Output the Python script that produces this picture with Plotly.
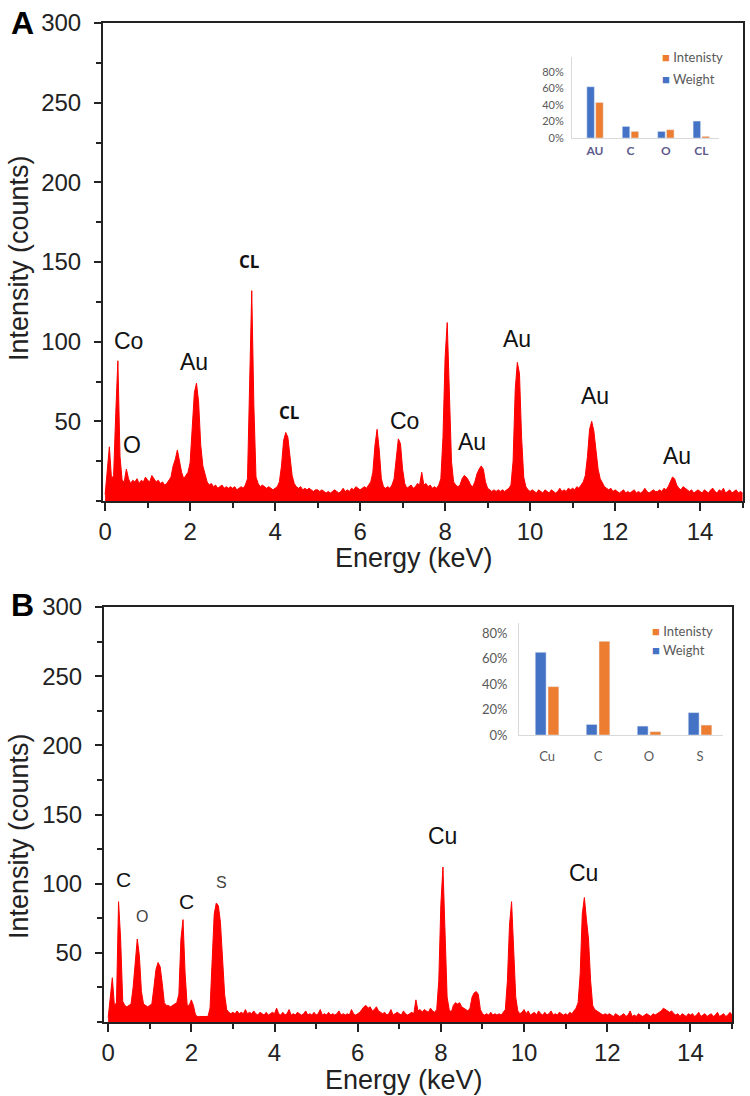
import plotly.graph_objects as go

W, H = 750, 1096

# ---------------- DATA ----------------
# EDS spectra: counts per 0.05 keV channel, 0.00 ... 15.00 keV
channel_kev = 0.05

counts_a = [
    4, 20, 34, 14, 16, 55, 88, 28, 13, 12, 20, 14, 11, 13, 12, 14, 11, 13, 12, 15,      # 0-1
    13, 12, 16, 14, 12, 13, 11, 12, 10, 11, 13, 15, 22, 26, 32, 25, 18, 14, 16, 18,     # 1-2
    24, 45, 68, 74, 62, 35, 22, 17, 12, 10, 11, 9, 10, 8, 9, 10, 8, 9, 8, 9,            # 2-3
    8, 9, 7, 8, 9, 8, 10, 14, 70, 132, 60, 15, 11, 9, 10, 9, 8, 9, 8, 7,                # 3-4
    8, 9, 12, 22, 38, 43, 40, 28, 16, 11, 9, 8, 9, 7, 8, 7, 8, 7, 6, 7,                 # 4-5
    7, 6, 7, 6, 5, 6, 5, 6, 7, 6, 5, 6, 8, 6, 7, 6, 8, 7, 9, 8,                         # 5-6
    7, 8, 9, 8, 10, 12, 18, 35, 45, 32, 14, 9, 8, 9, 8, 10, 14, 28, 39, 36,             # 6-7
    20, 11, 8, 9, 10, 8, 9, 11, 10, 18, 10, 11, 9, 10, 8, 9, 8, 10, 14, 40,             # 7-8
    90, 112, 70, 25, 12, 10, 9, 10, 14, 16, 15, 13, 10, 9, 12, 17, 20, 22, 20, 12,      # 8-9
    8, 7, 6, 7, 6, 7, 6, 7, 6, 7, 8, 10, 25, 70, 87, 80, 40, 15, 9, 7,                  # 9-10
    6, 7, 6, 5, 7, 6, 5, 7, 6, 5, 7, 6, 5, 6, 8, 6, 7, 6, 8, 7,                         # 10-11
    8, 7, 9, 8, 10, 12, 16, 28, 45, 50, 44, 30, 20, 14, 11, 9, 8, 7, 8, 6,              # 11-12
    7, 6, 5, 6, 7, 5, 6, 5, 6, 7, 5, 6, 5, 6, 8, 6, 5, 6, 7, 6,                         # 12-13
    6, 7, 6, 8, 7, 9, 12, 15, 14, 10, 8, 7, 9, 8, 7, 6, 7, 5, 6, 7,                     # 13-14
    6, 5, 7, 6, 5, 7, 8, 6, 5, 7, 6, 8, 5, 6, 7, 5, 6, 7, 5, 6,                         # 14-15
    5,
]

counts_b = [
    3, 20, 32, 12, 14, 87, 60, 15, 12, 11, 12, 13, 25, 40, 60, 48, 22, 13, 12, 11,     # 0-1
    12, 13, 25, 38, 43, 40, 28, 14, 12, 12, 11, 12, 13, 14, 20, 60, 74, 35, 12, 12,     # 1-2
    16, 12, 5, 4, 4, 4, 4, 4, 4, 10, 50, 78, 86, 84, 72, 45, 20, 9, 7, 6,               # 2-3
    7, 6, 8, 6, 7, 6, 9, 6, 7, 6, 8, 6, 5, 7, 6, 5, 7, 5, 6, 7,                         # 3-4
    6, 10, 6, 5, 7, 5, 6, 9, 5, 6, 5, 7, 6, 5, 6, 8, 5, 6, 5, 7,                        # 4-5
    5, 6, 9, 5, 6, 5, 7, 5, 6, 5, 6, 8, 5, 6, 5, 6, 5, 9, 6, 5,                         # 5-6
    6, 7, 9, 11, 12, 10, 11, 8, 9, 11, 8, 7, 6, 7, 5, 6, 9, 5, 6, 7,                    # 6-7
    6, 5, 8, 6, 5, 6, 7, 6, 16, 8, 9, 7, 9, 8, 7, 10, 8, 7, 9, 30,                      # 7-8
    85, 112, 60, 18, 9, 7, 12, 14, 13, 14, 11, 10, 9, 8, 10, 18, 21, 22, 20, 9,         # 8-9
    6, 5, 6, 5, 7, 5, 6, 5, 6, 5, 7, 9, 30, 70, 87, 55, 18, 8, 6, 7,                    # 9-10
    9, 6, 8, 5, 6, 7, 5, 8, 6, 5, 7, 5, 6, 8, 5, 6, 5, 7, 6, 5,                         # 10-11
    6, 5, 7, 6, 8, 10, 14, 35, 78, 90, 74, 60, 30, 12, 9, 8, 7, 6, 5, 6,                # 11-12
    5, 6, 5, 4, 6, 5, 4, 5, 6, 4, 5, 8, 4, 5, 4, 6, 5, 4, 5, 6,                         # 12-13
    5, 4, 6, 5, 6, 7, 8, 10, 9, 8, 7, 8, 6, 5, 6, 4, 6, 5, 4, 6,                        # 13-14
    5, 6, 4, 5, 7, 4, 5, 6, 4, 5, 6, 4, 5, 7, 4, 5, 6, 4, 5, 7,                         # 14-15
    5,
]

energy_a = [round(i * channel_kev, 2) for i in range(len(counts_a))]
energy_b = [round(i * channel_kev, 2) for i in range(len(counts_b))]

# peak labels (text, energy keV, counts)
labels_a_text = ["Co", "O", "Au", "Co", "Au", "Au", "Au", "Au"]
labels_a_x = [0.54, 0.64, 2.09, 7.04, 8.64, 9.69, 11.53, 13.46]
labels_a_y = [100.6, 35, 87, 50, 36.9, 101.9, 65.6, 28]
labels_a_bold_text = ["CL", "CL"]
labels_a_bold_x = [3.39, 4.35]
labels_a_bold_y = [150.6, 55.6]

labels_b_text = ["C", "C", "Cu", "Cu"]
labels_b_x = [0.36, 1.88, 8.05, 11.42]
labels_b_y = [102.7, 86.8, 134.5, 107.7]
labels_b_size = [21, 21, 23, 23]
labels_b_small_text = ["O", "S"]
labels_b_small_x = [0.82, 2.72]
labels_b_small_y = [76.6, 101.2]

# insets: composition (%)
inset_a_cats = ["AU", "C", "O", "CL"]
inset_a_weight = [62, 14, 8, 20.5]
inset_a_intensity = [43, 8, 10, 2]

inset_b_cats = ["Cu", "C", "O", "S"]
inset_b_weight = [65, 8.3, 7, 17.6]
inset_b_intensity = [38, 73.6, 2.6, 7.8]

y_ticks_main = [50, 100, 150, 200, 250, 300]
x_ticks_main = [0, 2, 4, 6, 8, 10, 12, 14]
inset_ticks = [0, 20, 40, 60, 80]
inset_tick_text = ["0%", "20%", "40%", "60%", "80%"]

# ---------------- STYLE ----------------
RED = "#FF0000"
BLUE = "#4472C4"
ORANGE = "#ED7D31"
AXC = "#222222"
FONT = "Liberation Sans, Arial, sans-serif"
IFONT = "Lato, Open Sans, sans-serif"


def fx(px):
    return px / W


def fy(py):
    return 1 - py / H


fig = go.Figure()

fig.add_trace(go.Scatter(x=energy_a, y=counts_a, mode="lines", fill="tozeroy",
                         line=dict(color=RED, width=1), fillcolor=RED,
                         xaxis="x", yaxis="y", showlegend=False))
fig.add_trace(go.Scatter(x=energy_b, y=counts_b, mode="lines", fill="tozeroy",
                         line=dict(color=RED, width=1), fillcolor=RED,
                         xaxis="x2", yaxis="y2", showlegend=False))

fig.add_trace(go.Bar(x=inset_a_cats, y=inset_a_weight, marker_color=BLUE, name="Weight",
                     xaxis="x3", yaxis="y3", showlegend=False))
fig.add_trace(go.Bar(x=inset_a_cats, y=inset_a_intensity, marker_color=ORANGE, name="Intenisty",
                     xaxis="x3", yaxis="y3", showlegend=False))
fig.add_trace(go.Bar(x=inset_b_cats, y=inset_b_weight, marker_color=BLUE, name="Weight",
                     xaxis="x4", yaxis="y4", showlegend=False))
fig.add_trace(go.Bar(x=inset_b_cats, y=inset_b_intensity, marker_color=ORANGE, name="Intenisty",
                     xaxis="x4", yaxis="y4", showlegend=False))


def main_x(domain, rng, anchor):
    return dict(domain=domain, range=rng, anchor=anchor, automargin=False, showline=True,
                linecolor=AXC, linewidth=2, mirror=True, ticks="outside", ticklen=8,
                tickwidth=1.5, tickcolor=AXC, tickvals=x_ticks_main, showgrid=False,
                zeroline=False, tickfont=dict(family=FONT, size=24, color=AXC),
                minor=dict(ticks="outside", ticklen=5, tickwidth=1.5, tickcolor=AXC,
                           dtick=1, tick0=0, showgrid=False))


def main_y(domain, anchor):
    return dict(domain=domain, range=[0, 300], anchor=anchor, automargin=False, showline=True,
                linecolor=AXC, linewidth=2, mirror=True, ticks="outside", ticklen=7,
                tickwidth=1.5, tickcolor=AXC, tickvals=y_ticks_main, showgrid=False,
                zeroline=False, ticklabelstandoff=8,
                tickfont=dict(family=FONT, size=24, color=AXC),
                minor=dict(ticks="outside", ticklen=5, tickwidth=1.5, tickcolor=AXC,
                           dtick=25, tick0=0, showgrid=False))


def inset_x(domain, rng, anchor, color, size, standoff, bold=False):
    return dict(domain=domain, range=rng, anchor=anchor, automargin=False, type="category",
                showline=True, linecolor="#d9d9d9", linewidth=1, ticks="", showgrid=False,
                zeroline=False, ticklabelstandoff=standoff,
                tickfont=dict(family=IFONT, size=size, color=color,
                              weight="bold" if bold else "normal"))


def inset_y(domain, rng, anchor, size, standoff):
    return dict(domain=domain, range=rng, anchor=anchor, automargin=False, showline=True,
                linecolor="#d9d9d9", linewidth=1, ticks="", showgrid=False, zeroline=False,
                tickmode="array", tickvals=inset_ticks, ticktext=inset_tick_text,
                ticklabelstandoff=standoff,
                tickfont=dict(family=IFONT, size=size, color="#595959"))


fig.update_layout(
    width=W, height=H, margin=dict(l=0, r=0, t=0, b=0, pad=0, autoexpand=False),
    paper_bgcolor="white", plot_bgcolor="rgba(0,0,0,0)",
    showlegend=False, bargap=0.5, bargroupgap=0.15, barmode="group",
    xaxis=main_x([fx(103), fx(743)], [-0.05, 15.01], "y"),
    yaxis=main_y([fy(501), fy(23)], "x"),
    xaxis2=main_x([fx(104), fx(732)], [-0.1, 15.0], "y2"),
    yaxis2=main_y([fy(1022), fy(607)], "x2"),
    xaxis3=inset_x([fx(572), fx(719)], [-0.65, 3.5], "y3", "#5e5a8c", 12, 2, bold=True),
    yaxis3=inset_y([fy(138), fy(57)], [0, 98], "x3", 11, 5),
    xaxis4=inset_x([fx(519), fx(723)], [-0.55, 3.45], "y4", "#595959", 13, 9),
    yaxis4=inset_y([fy(735), fy(623)], [0, 88], "x4", 13, 8),
)

ann = []
# peak labels
for t, x, y in zip(labels_a_text, labels_a_x, labels_a_y):
    ann.append(dict(x=x, y=y, xref="x", yref="y", text=t, showarrow=False,
                    font=dict(family=FONT, size=23, color="#111")))
for t, x, y in zip(labels_a_bold_text, labels_a_bold_x, labels_a_bold_y):
    ann.append(dict(x=x, y=y, xref="x", yref="y", text="<b>" + t + "</b>", showarrow=False,
                    font=dict(family="Open Sans, sans-serif", size=17, color="#111")))
for t, x, y, s in zip(labels_b_text, labels_b_x, labels_b_y, labels_b_size):
    ann.append(dict(x=x, y=y, xref="x2", yref="y2", text=t, showarrow=False,
                    font=dict(family=FONT, size=s, color="#111")))
for t, x, y in zip(labels_b_small_text, labels_b_small_x, labels_b_small_y):
    ann.append(dict(x=x, y=y, xref="x2", yref="y2", text=t, showarrow=False,
                    font=dict(family=FONT, size=16, color="#444")))

# axis titles
for (cx, cy, ang, txt) in [(19, 258, -90, "Intensity (counts)"), (414, 558, 0, "Energy (keV)"),
                           (19, 836, -90, "Intensity (counts)"), (404, 1080, 0, "Energy (keV)")]:
    ann.append(dict(x=fx(cx), y=fy(cy), xref="paper", yref="paper", text=txt, textangle=ang,
                    showarrow=False, xanchor="center", yanchor="middle",
                    font=dict(family=FONT, size=27, color=AXC)))

# panel letters
for (cx, cy, txt) in [(22, 23, "A"), (22, 605, "B")]:
    ann.append(dict(x=fx(cx), y=fy(cy), xref="paper", yref="paper", text="<b>" + txt + "</b>",
                    showarrow=False, xanchor="center", yanchor="middle",
                    font=dict(family=FONT, size=32, color="black")))

# inset legends
for (lx, ly_i, ly_w, size) in [(660, 57, 79, 13), (650, 631, 650, 13)]:
    ann.append(dict(x=fx(lx), y=fy(ly_i), xref="paper", yref="paper", xanchor="left",
                    yanchor="middle", showarrow=False,
                    text='<span style="color:%s">■</span> Intenisty' % ORANGE,
                    font=dict(family=IFONT, size=size, color="#595959")))
    ann.append(dict(x=fx(lx), y=fy(ly_w), xref="paper", yref="paper", xanchor="left",
                    yanchor="middle", showarrow=False,
                    text='<span style="color:%s">■</span> Weight' % BLUE,
                    font=dict(family=IFONT, size=size, color="#595959")))

fig.update_layout(annotations=ann)
# remove the default 8 px page margin so the 750x1096 figure fills the window exactly
fig.write_html("out.html", config={"displayModeBar": False},
               post_script="document.body.style.margin='0px';")
